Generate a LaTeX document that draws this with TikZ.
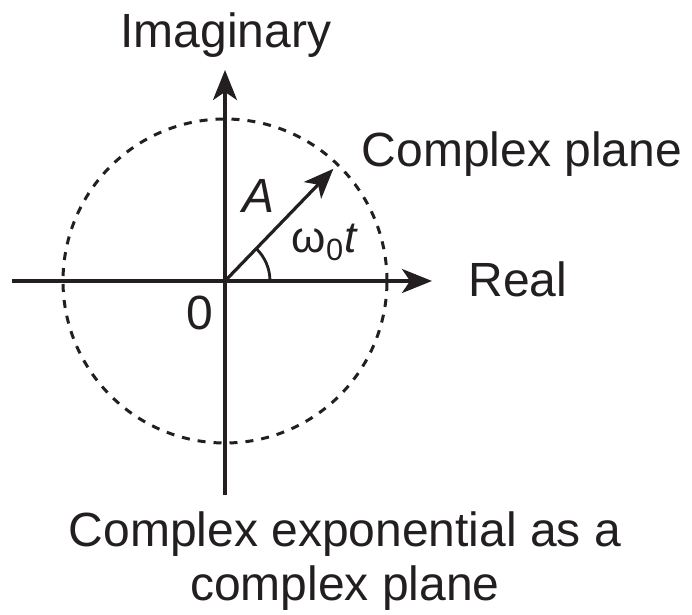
\documentclass[tikz,border=0pt]{standalone}
\usepackage{fontspec}
\setmainfont{Liberation Sans}
\usepackage{xcolor}
\usetikzlibrary{arrows.meta}
\definecolor{ink}{HTML}{231F20}

\begin{document}
\begin{tikzpicture}[x=0.5pt,y=0.5pt,color=ink,line width=1.6pt,
  axis/.style={-{Stealth[length=15pt,width=12pt,inset=4pt]}},
  lbl/.style={font=\fontsize{24}{27}\selectfont,inner sep=0pt}]
\useasboundingbox (-225,-334) rectangle (467,281);
\coordinate (O) at (0,0);
\coordinate (xl) at (-213,0);
\coordinate (xr) at (207,0);
\coordinate (yb) at (0,-214);
\coordinate (yt) at (0,211);
\coordinate (P) at (46:156);
% unit circle
\draw[line width=1.5pt,dash pattern=on 4pt off 4pt] (O) circle[radius=162];
% axes and phasor
\draw[axis] (xl) -- (xr);
\draw[axis] (yb) -- (yt);
\draw[axis] (O) -- (P);
\draw[line width=1.4pt] ([shift={(0:45)}]O) arc[start angle=0,end angle=46,radius=45];
% labels
\node[lbl,anchor=base] (imag) at (1,233) {Imaginary};
\node[lbl,anchor=base] (plane) at (297,114) {Complex plane};
\node[lbl,anchor=base] (real) at (293,-16) {Real};
\node[lbl,anchor=base] (zero) at (-25,-49) {0};
\node[lbl,anchor=base] (amp) at (34,68) {\itshape A};
\node[inner sep=0pt,anchor=base,font=\fontsize{22}{26}\selectfont] (ang) at (100,28) {ω\textsubscript{0}\textit{t}};
\node[lbl,align=center,anchor=south] (cap) at (120,-331) {Complex exponential as a\\complex plane};
\end{tikzpicture}
\end{document}
